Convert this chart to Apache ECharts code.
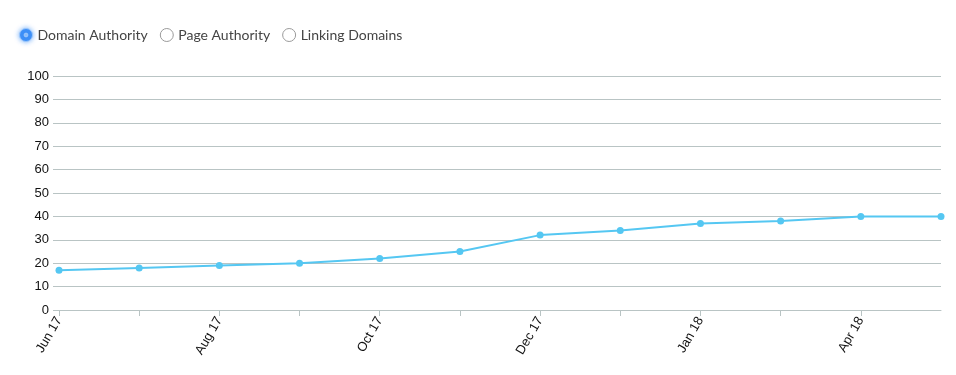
<!DOCTYPE html>
<html>
<head>
<meta charset="utf-8">
<style>
html,body{margin:0;padding:0;background:#fff;}
#chart{width:956px;height:375px;}
</style>
<script src="https://cdn.jsdelivr.net/npm/echarts@6/dist/echarts.min.js"></script>
</head>
<body>
<div id="chart"></div>
<script>
var categories = ['Jun 17','Jul 17','Aug 17','Sep 17','Oct 17','Nov 17','Dec 17','Dec 17 ','Jan 18','Mar 18','Apr 18','May 18'];
var domainAuthority = [17,18,19,20,22,25,32,34,37,38,40,40];
var legendNames = ['Domain Authority','Page Authority','Linking Domains'];
var yTicks = {min:0, max:100, interval:10};

var chart = echarts.init(document.getElementById('chart'));
var ringPath = 'path://M12,0A12,12,0,1,1,-12,0A12,12,0,1,1,12,0ZM3.5,0A3.5,3.5,0,1,0,-3.5,0A3.5,3.5,0,1,0,3.5,0Z';
chart.setOption({
  animation:false,
  legend:{
    left:19, top:28, padding:0, selectedMode:false, itemGap:12, itemWidth:13, itemHeight:13,
    textStyle:{fontFamily:'Lato', fontSize:14, color:'#444'},
    data:[
      {name:legendNames[0], icon:ringPath, itemStyle:{color:'#3d8ff7', borderColor:'#9cc7fb', borderWidth:1, shadowBlur:5, shadowColor:'rgba(61,143,247,0.7)'}},
      {name:legendNames[1], icon:'circle', itemStyle:{color:'#fff', borderColor:'#9a9a9a', borderWidth:1}},
      {name:legendNames[2], icon:'circle', itemStyle:{color:'#fff', borderColor:'#9a9a9a', borderWidth:1}}
    ]
  },
  grid:{left:59, right:15, top:76, bottom:65},
  xAxis:{
    type:'category', data:categories, boundaryGap:false,
    axisLine:{lineStyle:{color:'#b9c4c4'}},
    axisTick:{show:true, length:6, lineStyle:{color:'#b9c4c4'}, interval:function(i){return i < categories.length-1;}},
    axisLabel:{interval:1, rotate:60, fontFamily:'Liberation Sans', fontSize:13, color:'#111', margin:8}
  },
  yAxis:{
    type:'value', min:yTicks.min, max:yTicks.max, interval:yTicks.interval,
    axisLine:{show:false},
    axisTick:{show:true, length:6, lineStyle:{color:'#b9c4c4'}},
    axisLabel:{fontFamily:'Liberation Sans', fontSize:13, color:'#111', margin:10},
    splitLine:{lineStyle:{color:'#b9c4c4'}}
  },
  series:[
    {name:legendNames[0], type:'line', data:domainAuthority, symbol:'circle', symbolSize:7,
     itemStyle:{color:'#55c7f2'}, lineStyle:{color:'#55c7f2', width:2}},
    {name:legendNames[1], type:'line', data:[]},
    {name:legendNames[2], type:'line', data:[]}
  ]
});
</script>
</body>
</html>
